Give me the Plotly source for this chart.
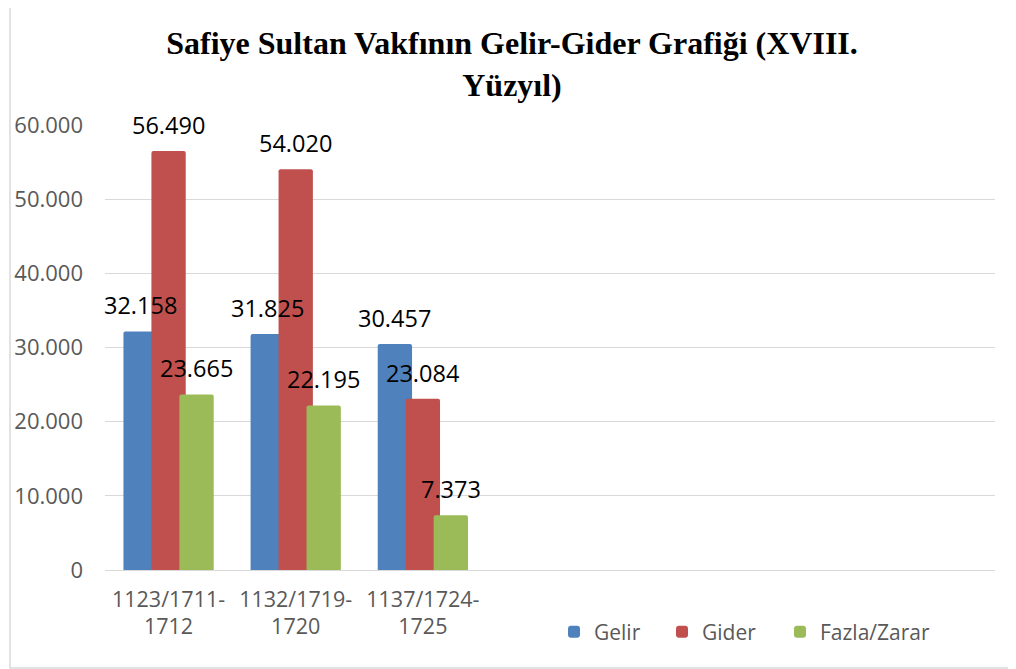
import plotly.graph_objects as go

categories = ["1123/1711-<br>1712", "1132/1719-<br>1720", "1137/1724-<br>1725"]
gelir = [32158, 31825, 30457]
gider = [56490, 54020, 23084]
fazla = [23665, 22195, 7373]

series = [
    ("Gelir", gelir, "#4F81BD", -0.355, 63),
    ("Gider", gider, "#C0504D", -0.135, 73),
    ("Fazla/Zarar", fazla, "#9BBB59", 0.085, 125),
]
BAR_W = 0.27
N_SLOTS = 7

# page offset (body margin) compensation
OFF = 8
W, H = 1016, 669
L, R, T, B = 105 - OFF, 21 + OFF, 125 - OFF, 99 + OFF
pw, ph = W - L - R, H - T - B
cat_px = pw / N_SLOTS


def px_x(x):
    return (x - OFF - L) / pw


def px_y(y):
    return (H - B - (y - OFF)) / ph


fig = go.Figure()
annotations = []
for name, vals, color, off, lw in series:
    fig.add_trace(go.Bar(
        name=name, x=categories, y=vals,
        marker=dict(color=color, line=dict(width=0), cornerradius=2),
        width=BAR_W, offset=off, legendwidth=lw,
    ))
    for c, v in zip(categories, vals):
        annotations.append(dict(
            x=c, y=v, xref="x", yref="y",
            text=f"{v:,}".replace(",", "."),
            showarrow=False, xanchor="center", yanchor="bottom",
            xshift=(off + BAR_W / 2) * cat_px, yshift=8,
            font=dict(family="Open Sans", size=23.5, color="#000000"),
        ))

fig.update_layout(
    width=W, height=H,
    barmode="overlay",
    separators=",.",
    plot_bgcolor="white", paper_bgcolor="white",
    margin=dict(l=L, r=R, t=T, b=B, autoexpand=False),
    title=dict(
        text="<b>Safiye Sultan Vakfının Gelir-Gider Grafiği (XVIII.<br>Yüzyıl)</b>",
        font=dict(family="Liberation Serif", size=32, color="#000000"),
        x=(512 - OFF) / W, xanchor="center", y=1 - 46 / H, yanchor="top",
    ),
    xaxis=dict(
        type="category", range=[-0.5, N_SLOTS - 0.5],
        showgrid=False, showline=False, zeroline=False, ticks="",
        tickfont=dict(family="Open Sans", size=21.5, color="#595959"),
        ticklabelstandoff=14,
    ),
    yaxis=dict(
        range=[0, 60000], tickvals=[0, 10000, 20000, 30000, 40000, 50000, 60000],
        tickformat=",.0f",
        showgrid=True, gridcolor="#d9d9d9", gridwidth=1.3,
        zeroline=True, zerolinecolor="#d9d9d9", zerolinewidth=1.3,
        showline=False, ticks="",
        tickfont=dict(family="Open Sans", size=22, color="#595959"),
        ticklabelstandoff=21,
    ),
    showlegend=True,
    legend=dict(
        orientation="h", x=px_x(554), xanchor="left", y=px_y(632), yanchor="middle",
        font=dict(family="Open Sans", size=21, color="#595959"),
        bgcolor="rgba(0,0,0,0)", traceorder="normal",
    ),
    annotations=annotations,
    shapes=[dict(
        type="rect", xref="paper", yref="paper",
        x0=px_x(10), x1=px_x(1030), y0=px_y(668), y1=px_y(6),
        line=dict(color="#d9d9d9", width=1.5), fillcolor="rgba(0,0,0,0)", layer="below",
    )],
)

fig.write_html("out.html")
